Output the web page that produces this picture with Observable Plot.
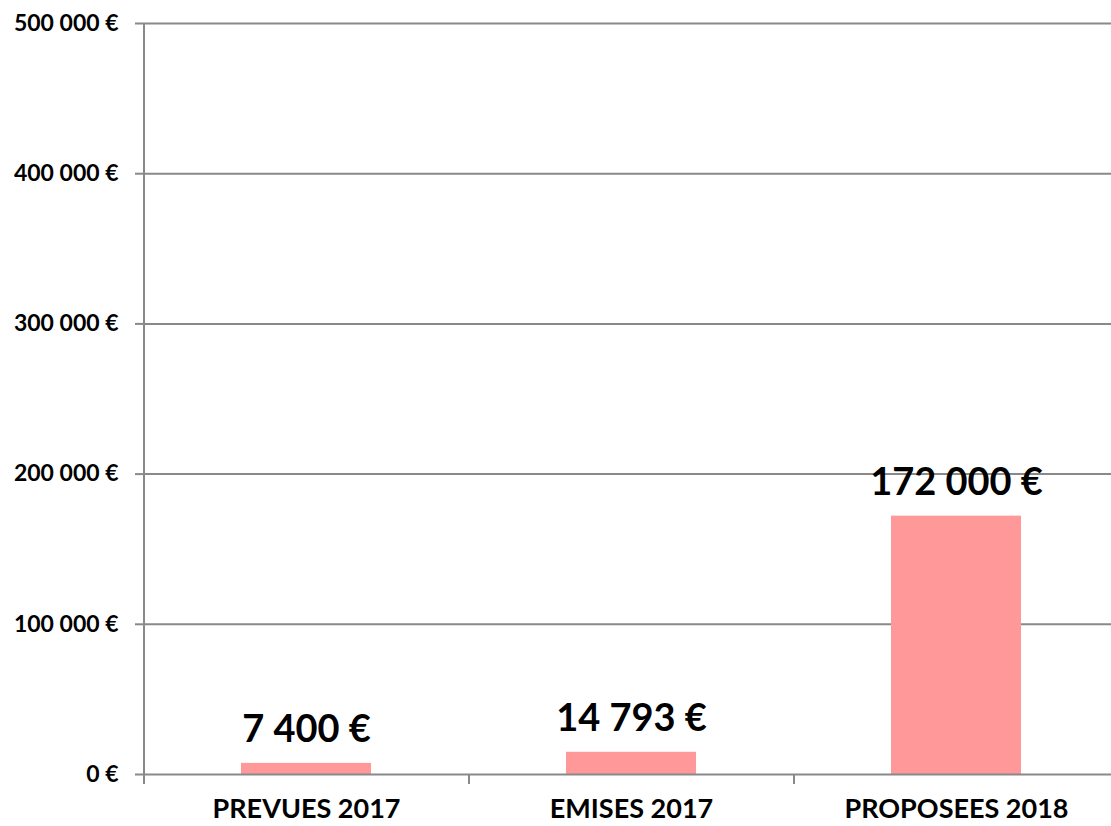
<!DOCTYPE html>
<html>
<head>
<meta charset="utf-8">
<script src="https://cdn.jsdelivr.net/npm/d3@7"></script>
<script src="https://cdn.jsdelivr.net/npm/@observablehq/plot@0.6"></script>
<style>
  html, body { margin: 0; padding: 0; background: #fff; overflow: hidden; }
  svg { font-family: Lato, "Open Sans", sans-serif; font-weight: 700; }
</style>
</head>
<body>
<div id="chart"></div>
<script>
const categories = ["PREVUES 2017", "EMISES 2017", "PROPOSEES 2018"];
const values = [7400, 14793, 172000];
const yTicks = [0, 100000, 200000, 300000, 400000, 500000];

const data = categories.map((c, i) => ({category: c, value: values[i]}));
const locale = d3.formatLocale({decimal: ",", thousands: "\u00a0", grouping: [3], currency: ["", "\u00a0€"]});
const fmt = d => locale.format("$,.0f")(d);

const gray = "#898989";
const chart = Plot.plot({
  width: 1111,
  height: 826,
  marginLeft: 143,
  marginRight: 0,
  marginTop: 23,
  marginBottom: 52,
  style: {fontFamily: "Lato, 'Open Sans', sans-serif", fontWeight: 700, color: "#000", background: "#fff"},
  x: {domain: categories, range: [143, 1118], paddingInner: 0.6, paddingOuter: 0.3, label: null},
  y: {domain: [0, 500000], label: null},
  marks: [
    Plot.ruleY(yTicks.slice(1), {stroke: gray, strokeWidth: 2, strokeOpacity: 1}),
    Plot.axisY({ticks: yTicks, tickFormat: fmt, tickSize: 8, tickPadding: 17, stroke: gray, strokeWidth: 2, strokeOpacity: 1, fontSize: 23, fontWeight: 700, fill: "#000", label: null}),
    Plot.barY(data, {x: "category", y: "value", fill: "#FF9999"}),
    Plot.ruleY([0], {stroke: gray, strokeWidth: 2}),
    Plot.ruleX(categories, {x: d => d, dx: -162.5, y1: 500000, y2: -6700, stroke: gray, strokeWidth: 2, filter: (d, i) => i === 0}),
    Plot.ruleX(categories, {x: d => d, dx: -162.5, y1: 0, y2: -6700, stroke: gray, strokeWidth: 2, filter: (d, i) => i > 0}),
    Plot.text(data, {x: "category", y: "value", text: d => fmt(d.value), lineAnchor: "bottom", dy: -21, fontSize: 38, fontWeight: 700, fill: "#000"}),
    Plot.axisX({tickSize: 0, tickPadding: 24, fontSize: 27, fontWeight: 700, fill: "#000", label: null})
  ]
});
document.getElementById("chart").appendChild(chart);
</script>
</body>
</html>
